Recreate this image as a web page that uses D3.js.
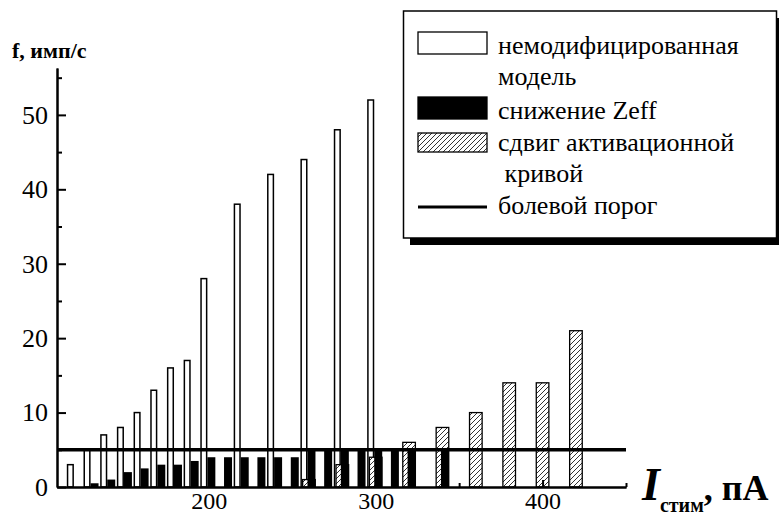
<!DOCTYPE html>
<html lang="ru">
<head>
<meta charset="utf-8">
<title>f vs I stim</title>
<script src="https://cdn.jsdelivr.net/npm/d3@7"></script>
<style>
  body { margin: 0; background: #fff; }
  svg text { font-family: "Liberation Serif", "Tinos", "DejaVu Serif", "Times New Roman", serif; }
</style>
</head>
<body>
<script>
// немодифицированная модель (white bars)
var whiteX = [120, 130, 140, 150, 160, 170, 180, 190, 200, 220, 240, 260, 280, 300];
var whiteY = [3, 5, 7, 8, 10, 13, 16, 17, 28, 38, 42, 44, 48, 52];
// снижение Zeff (black bars)
var blackX = [130, 140, 150, 160, 170, 180, 190, 200, 210, 220, 230, 240, 250, 260, 270, 280, 290, 300, 310, 320, 340];
var blackY = [0.5, 1, 2, 2.5, 3, 3, 3.5, 4, 4, 4, 4, 4, 4, 5, 5, 5, 5, 5, 5, 5, 5];
// сдвиг активационной кривой (hatched bars)
var hatchX = [260, 280, 300, 320, 340, 360, 380, 400, 420];
var hatchY = [1, 3, 4, 6, 8, 10, 14, 14, 21];
// болевой порог
var threshold = 5;

var yMajor = [0, 10, 20, 30, 40, 50];
var yMinor = [5, 15, 25, 35, 45, 55];
var xMajor = [200, 300, 400];
var xMinor = [150, 250, 350, 450];

var legendRows = [
  {type: "white", label: ["немодифицированная", "модель"]},
  {type: "black", label: ["снижение Zeff"]},
  {type: "hatch", label: ["сдвиг активационной", " кривой"]},
  {type: "line",  label: ["болевой порог"]}
];

var serif = "Liberation Serif, Tinos, DejaVu Serif, Times New Roman, serif";
var width = 779, height = 517;
var svg = d3.select("body").append("svg")
    .attr("width", width)
    .attr("height", height)
    .attr("font-family", serif);

var defs = svg.append("defs");
var pat = defs.append("pattern")
    .attr("id", "hatch")
    .attr("patternUnits", "userSpaceOnUse")
    .attr("width", 5).attr("height", 5);
pat.append("rect").attr("width", 5).attr("height", 5).attr("fill", "#fff");
pat.append("path")
    .attr("d", "M-1,1 l2,-2 M0,5 l5,-5 M4,6 l2,-2")
    .attr("stroke", "#000").attr("stroke-width", 0.8);

var x = d3.scaleLinear().domain([109, 450]).range([57, 626]);
var y = d3.scaleLinear().domain([0, 56.3]).range([487, 68]);

// bars
svg.append("g").selectAll("rect")
    .data(whiteX.map(function(d, i) { return [d, whiteY[i]]; }))
    .enter().append("rect")
    .attr("x", function(d) { return x(d[0]) - 7.8; })
    .attr("width", 5.6)
    .attr("y", function(d) { return y(d[1]); })
    .attr("height", function(d) { return y(0) - y(d[1]); })
    .attr("fill", "#fff")
    .attr("stroke", "#000")
    .attr("stroke-width", 1.5);

svg.append("g").selectAll("rect")
    .data(hatchX.map(function(d, i) { return [d, hatchY[i]]; }))
    .enter().append("rect")
    .attr("x", function(d) { return x(d[0]) - 6.3; })
    .attr("width", 12.6)
    .attr("y", function(d) { return y(d[1]); })
    .attr("height", function(d) { return y(0) - y(d[1]); })
    .attr("fill", "url(#hatch)")
    .attr("stroke", "#000")
    .attr("stroke-width", 1.3);

svg.append("g").selectAll("rect")
    .data(blackX.map(function(d, i) { return [d, blackY[i]]; }))
    .enter().append("rect")
    .attr("x", function(d) { return x(d[0]) - 1.5; })
    .attr("width", 8)
    .attr("y", function(d) { return y(d[1]); })
    .attr("height", function(d) { return y(0) - y(d[1]); })
    .attr("fill", "#000");

// threshold
svg.append("line")
    .attr("x1", x(109)).attr("x2", x(450))
    .attr("y1", y(threshold)).attr("y2", y(threshold))
    .attr("stroke", "#000").attr("stroke-width", 3.5);

// axes
var yAxis = d3.axisLeft(y).tickValues(yMajor).tickSize(-9).tickSizeOuter(0).tickPadding(9);
svg.append("g").attr("transform", "translate(57,0)").call(yAxis);
svg.append("g").attr("transform", "translate(57,0)")
    .call(d3.axisLeft(y).tickValues(yMinor).tickSize(-5).tickSizeOuter(0).tickFormat(""));

var xAxis = d3.axisBottom(x).tickValues(xMajor).tickSize(-7).tickSizeOuter(0).tickPadding(5);
var gx = svg.append("g").attr("transform", "translate(0,487)").call(xAxis);
svg.append("g").attr("transform", "translate(0,487)")
    .call(d3.axisBottom(x).tickValues(xMinor).tickSize(-4).tickSizeOuter(0).tickFormat(""));

svg.selectAll("g").attr("font-family", serif);
svg.selectAll(".domain").attr("stroke", "#000").attr("stroke-width", 2);
svg.selectAll(".tick line").attr("stroke", "#000").attr("stroke-width", 2);
svg.selectAll(".tick text")
    .attr("font-family", serif)
    .attr("font-size", 26)
    .attr("fill", "#000");
gx.selectAll(".tick text").attr("font-size", 24);

// axis titles
svg.append("text")
    .attr("x", 12).attr("y", 58)
    .attr("font-size", 22).attr("font-weight", "bold")
    .text("f, имп/с");

var xt = svg.append("text")
    .attr("x", 642).attr("y", 500)
    .attr("font-weight", "bold");
xt.append("tspan").attr("font-size", 46).attr("font-style", "italic").text("I");
xt.append("tspan").attr("font-size", 20).attr("dy", 12).text("стим");
xt.append("tspan").attr("font-size", 36).attr("dy", -12).text(", пА");

// legend
var lg = svg.append("g");
lg.append("rect")
    .attr("x", 410).attr("y", 18).attr("width", 380).attr("height", 227)
    .attr("fill", "#000");
lg.append("rect")
    .attr("x", 403.5).attr("y", 11).attr("width", 373).attr("height", 227)
    .attr("fill", "#fff").attr("stroke", "#000").attr("stroke-width", 1.5);

var rowY = [32, 97, 133, 207];
var rowH = [22, 22, 19, 0];
var textY = [[54, 85], [119], [151, 182], [214]];
legendRows.forEach(function(r, i) {
  if (r.type === "line") {
    lg.append("line")
      .attr("x1", 418).attr("x2", 487)
      .attr("y1", rowY[i]).attr("y2", rowY[i])
      .attr("stroke", "#000").attr("stroke-width", 3);
  } else {
    lg.append("rect")
      .attr("x", 418).attr("y", rowY[i]).attr("width", 69).attr("height", rowH[i])
      .attr("fill", r.type === "white" ? "#fff" : r.type === "black" ? "#000" : "url(#hatch)")
      .attr("stroke", "#000").attr("stroke-width", 1.3);
  }
  r.label.forEach(function(t, j) {
    lg.append("text")
      .attr("x", 498).attr("y", textY[i][j])
      .attr("font-size", 26)
      .style("white-space", "pre")
      .text(t);
  });
});
</script>
</body>
</html>
